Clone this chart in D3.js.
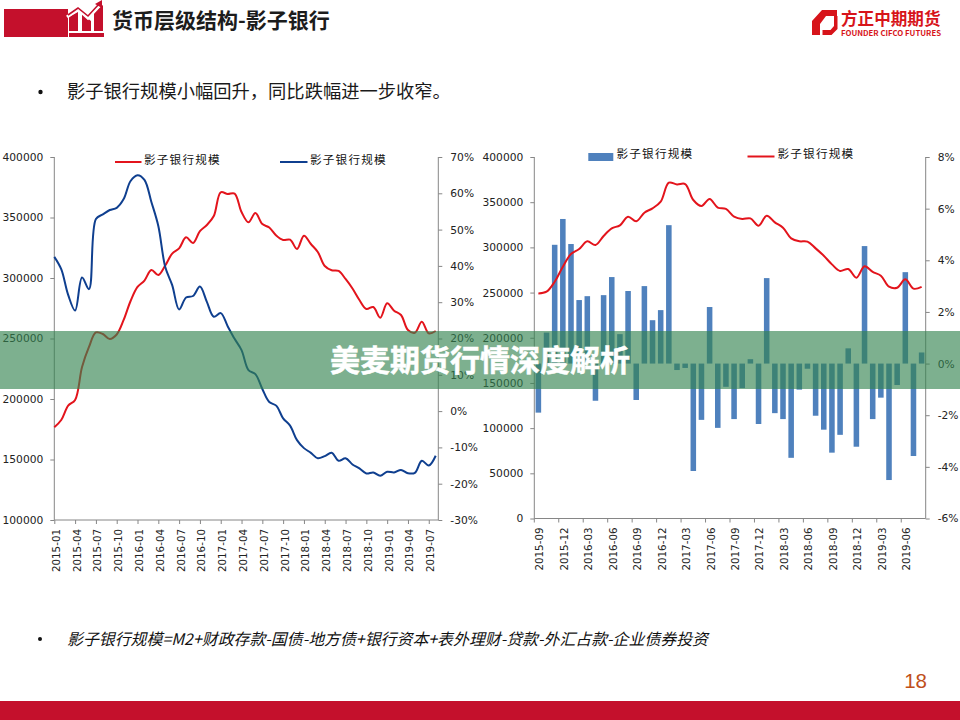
<!DOCTYPE html>
<html>
<head>
<meta charset="utf-8">
<script src="https://cdn.jsdelivr.net/npm/d3@7"></script>
<style>
html,body{margin:0;padding:0;background:#fff;}
svg{display:block;}
text{font-family:"Noto Sans CJK SC","Noto Sans",sans-serif;}
.tick text{font-family:"DejaVu Sans",sans-serif;fill:#222;}
</style>
</head>
<body>
<svg id="c" width="960" height="720"></svg>
<script>
const monthsLeft = ["2015-01","2015-02","2015-03","2015-04","2015-05","2015-06","2015-07","2015-08","2015-09","2015-10","2015-11","2015-12","2016-01","2016-02","2016-03","2016-04","2016-05","2016-06","2016-07","2016-08","2016-09","2016-10","2016-11","2016-12","2017-01","2017-02","2017-03","2017-04","2017-05","2017-06","2017-07","2017-08","2017-09","2017-10","2017-11","2017-12","2018-01","2018-02","2018-03","2018-04","2018-05","2018-06","2018-07","2018-08","2018-09","2018-10","2018-11","2018-12","2019-01","2019-02","2019-03","2019-04","2019-05","2019-06","2019-07","2019-08"];
const scaleLeft = [176600,182600,194500,199200,226400,243000,255000,253700,249600,253300,265300,281000,292600,297900,306600,302500,310300,320200,324500,333600,328900,338800,343800,351200,370800,369400,369800,354500,346000,353700,344600,341700,335100,331400,331700,324000,335000,328100,321500,309900,306400,305800,299200,291300,281800,274400,276000,267200,279100,273000,269400,257000,254800,263900,254300,256200];
const yoyLeft = [42.5,39.1,32.0,27.7,36.8,33.6,52.9,54.2,55.4,56.0,58.4,63.4,65.0,63.7,57.6,51.0,39.7,34.7,28.0,31.3,31.7,34.3,30.1,26.0,27.0,23.4,19.9,16.8,11.3,10.2,6.1,2.5,1.5,-2.0,-4.0,-8.0,-10.2,-11.5,-13.0,-12.4,-11.5,-13.7,-13.0,-14.7,-15.8,-17.2,-16.9,-17.8,-16.7,-16.9,-16.2,-17.1,-17.0,-13.7,-15.0,-12.3];
const leftTicksA = [100000,150000,200000,250000,300000,350000,400000];
const leftTicksB = [-30,-20,-10,0,10,20,30,40,50,60,70];

const monthsRight = monthsLeft.slice(8);
const scaleRight = [249100,251000,262000,278600,292700,298200,306700,302600,312600,321100,324400,334000,328800,338400,343200,350600,371600,369700,370100,352400,345800,353500,344000,342500,334000,331400,332100,324000,335100,327700,321800,310000,306700,306300,298900,290800,281200,273900,276100,266500,279000,272800,268700,256500,255400,264600,254300,256200];
const changeRight = [-1.9,1.2,4.6,5.6,4.63,2.46,2.61,-1.44,2.65,3.35,1.14,2.81,-1.41,3.0,1.68,2.07,5.36,-0.25,-0.17,-4.16,-2.18,2.19,-2.49,-0.9,-2.15,-0.95,0.17,-2.34,3.31,-1.92,-2.15,-3.65,-1.01,-0.2,-2.02,-2.56,-3.45,-2.76,0.59,-3.22,4.55,-2.15,-1.32,-4.51,-0.83,3.54,-3.58,0.43];
const rightTicksA = [0,50000,100000,150000,200000,250000,300000,350000,400000];
const rightTicksB = [-6,-4,-2,0,2,4,6,8];

const seriesName = "影子银行规模";
const headerTitle = "货币层级结构-影子银行";
const bulletTop = "影子银行规模小幅回升\uFF0C同比跌幅进一步收窄。";
const bulletBottom = "影子银行规模=M2+财政存款-国债-地方债+银行资本+表外理财-贷款-外汇占款-企业债券投资";
const bannerText = "美麦期货行情深度解析";
const pageNumber = "18";

const RED="#e3141c", NAVY="#0f3f8f", BAR="#4f81bd", AXIS="#868686", BRAND="#c4102c";
const svg = d3.select("#c");
const TICK=4, FS=10.7, XFS=10.3;
const pct = d=>d+"%";

function styleY(g){
  g.select(".domain").remove();
  g.selectAll("line").attr("stroke",AXIS);
  g.selectAll("text").attr("font-size",FS);
}
function styleX(g){
  g.select(".domain").remove();
  g.selectAll("line").attr("stroke",AXIS);
  g.selectAll("text").attr("font-size",XFS).attr("text-anchor","end")
    .attr("transform","rotate(-90)").attr("x",-9).attr("y",1.6).attr("dx",0).attr("dy","0.32em");
}
function frame(L,R,T,B){
  const f=svg.append("g").attr("stroke",AXIS).attr("stroke-width",1);
  f.append("line").attr("x1",L).attr("x2",L).attr("y1",T).attr("y2",B);
  f.append("line").attr("x1",R).attr("x2",R).attr("y1",T).attr("y2",B);
  f.append("line").attr("x1",L).attr("x2",R).attr("y1",B).attr("y2",B);
}
function legendLabel(x,y){
  svg.append("text").attr("x",x).attr("y",y).attr("font-size",11.6).attr("letter-spacing",1.2)
    .attr("dominant-baseline","middle").attr("fill","#111").text(seriesName);
}

/* ---------- left chart ---------- */
{
  const L=54.3,R=438.3,T=157,B=520;
  const x=d3.scalePoint().domain(monthsLeft).range([54.3,435.7]);
  const yA=d3.scaleLinear().domain([100000,400000]).range([B,T]);
  const yB=d3.scaleLinear().domain([-30,70]).range([B,T]);
  frame(L,R,T,B);
  svg.append("g").attr("transform",`translate(${L},0)`)
    .call(d3.axisLeft(yA).tickValues(leftTicksA).tickSize(TICK).tickPadding(7).tickFormat(d3.format("d"))).call(styleY);
  svg.append("g").attr("transform",`translate(${R},0)`)
    .call(d3.axisRight(yB).tickValues(leftTicksB).tickSize(TICK).tickPadding(8).tickFormat(pct)).call(styleY);
  svg.append("g").attr("transform",`translate(0,${B})`)
    .call(d3.axisBottom(x).tickValues(monthsLeft.filter((d,i)=>i%3===0)).tickSize(TICK)).call(styleX);
  const curve=d3.curveCatmullRom.alpha(0.5);
  svg.append("path").attr("fill","none").attr("stroke",RED).attr("stroke-width",2)
    .attr("d",d3.line().x((d,i)=>x(monthsLeft[i])).y(d=>yA(d)).curve(curve)(scaleLeft));
  svg.append("path").attr("fill","none").attr("stroke",NAVY).attr("stroke-width",2)
    .attr("d",d3.line().x((d,i)=>x(monthsLeft[i])).y(d=>yB(d)).curve(curve)(yoyLeft));
  svg.append("line").attr("x1",115).attr("x2",141.5).attr("y1",162).attr("y2",162).attr("stroke",RED).attr("stroke-width",2);
  legendLabel(144,161);
  svg.append("line").attr("x1",280).attr("x2",307.5).attr("y1",162).attr("y2",162).attr("stroke",NAVY).attr("stroke-width",2);
  legendLabel(310,161);
}

/* ---------- right chart ---------- */
{
  const L=534.3,R=925.7,T=157,B=518.5;
  const x=d3.scaleBand().domain(monthsRight).range([L,R]).paddingInner(0.32).paddingOuter(0.16);
  const yA=d3.scaleLinear().domain([0,400000]).range([B,T]);
  const yB=d3.scaleLinear().domain([-6,8]).range([B,T]);
  const bw=x.bandwidth(), step=x.step();
  svg.append("g").selectAll("rect").data(changeRight).join("rect")
    .attr("x",(d,i)=>x(monthsRight[i])).attr("width",bw)
    .attr("y",d=>Math.min(yB(d),yB(0))).attr("height",d=>Math.abs(yB(d)-yB(0)))
    .attr("fill",BAR);
  frame(L,R,T,B);
  svg.append("g").attr("transform",`translate(${L},0)`)
    .call(d3.axisLeft(yA).tickValues(rightTicksA).tickSize(TICK).tickPadding(7).tickFormat(d3.format("d"))).call(styleY);
  svg.append("g").attr("transform",`translate(${R},0)`)
    .call(d3.axisRight(yB).tickValues(rightTicksB).tickSize(TICK).tickPadding(8).tickFormat(pct)).call(styleY);
  const xg=svg.append("g").attr("transform",`translate(0,${B})`)
    .call(d3.axisBottom(x).tickValues(monthsRight.filter((d,i)=>i%3===0)).tickSize(TICK)).call(styleX);
  xg.selectAll(".tick line").attr("transform",`translate(${-step/2},0)`);
  svg.append("path").attr("fill","none").attr("stroke",RED).attr("stroke-width",2)
    .attr("d",d3.line().x((d,i)=>x(monthsRight[i])+bw/2).y(d=>yA(d)).curve(d3.curveCatmullRom.alpha(0.5))(scaleRight));
  svg.append("rect").attr("x",588.3).attr("y",153).attr("width",25).attr("height",8).attr("fill",BAR);
  legendLabel(616.5,155);
  svg.append("line").attr("x1",747.5).attr("x2",774.5).attr("y1",156.5).attr("y2",156.5).attr("stroke",RED).attr("stroke-width",2);
  legendLabel(777.5,155);
}

/* ---------- slide furniture ---------- */
svg.append("rect").attr("x",4).attr("y",9).attr("width",64).attr("height",28).attr("fill",BRAND);
svg.append("path").attr("fill",BRAND).attr("d","M69 33h35v4H69z M69 17l9-5 0 19h-9z M82 14l9 7v10h-9z M94 12l9-7v26h-9z");
svg.append("polyline").attr("fill","none").attr("stroke","#fff").attr("stroke-width",3.2).attr("points","67,17 78,9 88,18 102,3");
svg.append("polyline").attr("fill","none").attr("stroke",BRAND).attr("stroke-width",1.6).attr("points","68,15 78,8 88,16 99,4");
svg.append("path").attr("fill",BRAND).attr("d","M102 0l0 8-7-4z");
svg.append("text").attr("x",112).attr("y",28).attr("font-size",21).attr("font-weight",700).attr("fill","#1c1c1c").text(headerTitle);

svg.append("path").attr("fill","#d7141a").attr("fill-rule","evenodd")
  .attr("d","M822 10h15v6h-11l-6 8v11h-8v-14z M834 16h3.5v13l-6 6h-9v-5h8l3.5-4z");
svg.append("text").attr("x",841).attr("y",25).attr("font-size",16.6).attr("font-weight",700).attr("fill","#d7141a").text("方正中期期货");
svg.append("text").attr("x",841).attr("y",36).attr("font-size",7.2).attr("font-weight",700).attr("fill","#d7141a")
  .attr("textLength",100).attr("lengthAdjust","spacingAndGlyphs").text("FOUNDER CIFCO FUTURES");

svg.append("circle").attr("cx",40.5).attr("cy",92).attr("r",2.2).attr("fill","#111");
svg.append("text").attr("x",67).attr("y",98).attr("font-size",18.3).attr("font-weight",400).attr("fill","#1a1a1a").text(bulletTop);

svg.append("circle").attr("cx",40).attr("cy",639).attr("r",2).attr("fill","#111");
svg.append("text").attr("x",67).attr("y",645).attr("font-size",16).attr("font-style","italic").attr("font-weight",400).attr("fill","#111")
  .attr("textLength",641).attr("lengthAdjust","spacingAndGlyphs").text(bulletBottom);

svg.append("text").attr("x",927).attr("y",687.5).attr("text-anchor","end").attr("font-size",20.5)
  .style("font-family","'Liberation Sans',sans-serif").attr("fill","#c0501a").text(pageNumber);
svg.append("rect").attr("x",0).attr("y",701).attr("width",960).attr("height",19).attr("fill",BRAND);

svg.append("rect").attr("x",0).attr("y",331).attr("width",960).attr("height",58).attr("fill","rgb(52,131,80)").attr("fill-opacity",0.64);
svg.append("text").attr("x",480).attr("y",371).attr("text-anchor","middle").attr("font-size",30).attr("font-weight",700)
  .attr("fill","#fff").attr("stroke","#fff").attr("stroke-width",0.5).text(bannerText);
</script>
</body>
</html>
